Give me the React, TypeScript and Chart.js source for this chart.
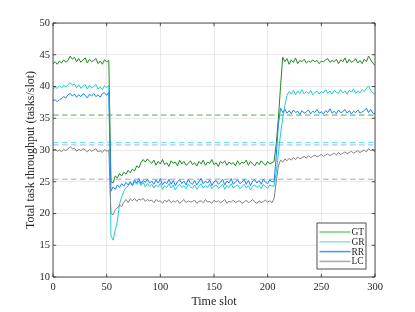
import React, { useEffect, useRef } from "react";
import { Chart, registerables } from "chart.js";

Chart.register(...registerables);

// Samples are recorded every SLOT_STEP time slots (0, 2, 4, ... 300)
const SLOT_STEP = 2;

const seriesNames = ["GT", "GR", "RR", "LC"];

const gtValues = [
  43.6, 43.9, 43.5, 44.0, 43.7, 44.2, 43.8, 44.1, 44.8, 44.3,
  44.6, 43.9, 44.4, 43.8, 44.2, 44.5, 43.7, 44.3, 43.9, 44.1,
  44.4, 43.6, 44.0, 43.5, 44.2, 43.9, 44.1,
  25.0, 24.8, 25.9, 25.6, 26.3, 25.9, 26.5, 26.2, 26.8, 26.4,
  27.0, 26.7, 27.5, 27.2, 28.0, 28.5, 28.1, 28.6, 28.2,
  27.9, 28.4, 27.6, 28.2, 27.8, 28.5, 27.7, 28.0, 27.4, 28.3,
  27.9, 28.1, 27.5, 28.4, 27.8, 28.2, 27.6, 27.9, 28.3, 27.7,
  28.0, 27.5, 28.2, 27.8, 28.4, 27.6, 28.1, 27.9, 28.5, 27.7,
  28.0, 27.4, 28.2, 27.9, 28.3, 27.6, 28.1, 27.8, 28.0, 27.5,
  28.3, 27.7, 28.1, 27.9, 28.4, 27.6, 28.2, 27.8, 27.5, 28.1,
  27.7, 28.3, 27.9, 27.6, 28.2, 27.8, 28.0,
  28.2, 31.0, 35.0, 40.0, 44.6,
  43.9, 44.4, 43.5, 44.2, 43.8, 44.5, 43.6, 44.1, 43.9, 44.3,
  43.7, 44.0, 43.8, 44.2, 43.9, 44.1, 43.6, 44.0, 43.9, 44.2,
  44.4, 43.8, 44.1, 43.9, 44.3, 43.6, 44.2, 43.9, 44.5, 43.7,
  44.3, 43.8, 44.0, 44.4, 43.7, 44.1, 43.6, 44.3, 43.9, 44.8,
  44.2, 43.7, 43.3,
];

const grValues = [
  39.6, 39.9, 39.7, 40.1, 39.8, 40.2, 39.9, 40.3, 40.6, 40.2,
  40.4, 39.8, 40.3, 39.7, 40.1, 40.3, 39.6, 40.2, 39.8, 40.0,
  40.3, 39.6, 39.9, 39.5, 40.1, 39.8, 40.2,
  16.5, 15.8, 17.4, 18.8, 21.5, 22.6, 23.5, 24.1, 24.3, 24.8,
  24.5, 25.0, 24.6, 25.1, 24.4, 24.9, 24.2, 24.7, 24.3,
  24.6, 24.0, 24.5, 24.2, 24.8, 23.8, 24.4, 24.1, 24.7, 24.0,
  24.5, 23.7, 24.3, 24.6, 24.1, 24.4, 23.9, 24.6, 24.2, 24.0,
  24.5, 23.8, 24.3, 24.7, 24.0, 24.4, 24.1, 24.6, 23.9, 24.3,
  24.5, 24.0, 24.2, 24.6, 23.8, 24.4, 24.1, 24.7, 24.0, 24.3,
  24.5, 23.9, 24.2, 24.6, 24.0, 24.4, 23.7, 24.3, 24.5, 24.1,
  24.4, 23.9, 24.6, 24.2, 24.0, 24.5, 24.3,
  24.3, 26.5, 29.5, 32.5, 35.0,
  37.0, 38.6, 39.2, 38.8, 39.4, 38.7, 39.3, 38.9, 39.5, 38.8,
  39.2, 38.9, 39.4, 38.7, 39.1, 39.3, 38.8, 39.2, 39.0, 39.5,
  38.9, 39.3, 38.8, 39.4, 39.1, 38.9, 39.5, 39.0, 39.3, 38.8,
  39.4, 39.1, 39.6, 38.9, 39.3, 39.0, 39.5, 39.2, 39.7, 40.1,
  39.4, 39.0, 38.8,
];

const rrValues = [
  37.8, 37.9, 37.6, 37.9, 38.1, 38.4, 38.2, 38.7, 38.9, 38.5,
  38.8, 38.3, 38.7, 38.4, 38.9, 38.6, 38.2, 38.8, 38.5, 38.9,
  38.4, 38.7, 38.3, 38.9, 39.0, 38.6, 39.1,
  23.5, 24.2, 23.8, 24.5, 24.1, 24.7, 24.3, 24.9, 24.5, 25.0,
  24.4, 25.3, 24.8, 25.5, 24.7, 25.2, 24.9, 25.4, 24.8,
  25.1, 24.6, 25.3, 24.8, 25.5, 24.5, 25.0, 24.7, 25.4, 24.6,
  25.2, 24.4, 25.0, 25.3, 24.7, 25.1, 24.5, 25.4, 24.8, 24.6,
  25.2, 24.5, 25.0, 25.5, 24.7, 25.1, 24.8, 25.3, 24.4, 25.0,
  25.2, 24.6, 24.9, 25.4, 24.5, 25.1, 24.8, 25.5, 24.6, 25.0,
  25.3, 24.7, 24.9, 25.4, 24.6, 25.2, 24.4, 25.1, 25.3, 24.8,
  25.2, 24.6, 25.4, 24.9, 24.7, 25.3, 25.0,
  25.0, 29.0, 34.0, 36.6, 35.9,
  36.4, 35.8, 36.2, 35.7, 36.3, 35.9, 36.1, 35.6, 36.2, 35.8,
  36.0, 36.3, 35.7, 36.1, 35.9, 36.4, 35.8, 36.0, 35.7, 36.2,
  35.9, 36.5, 35.8, 36.1, 35.7, 36.3, 35.9, 36.0, 36.4, 35.8,
  36.2, 35.7, 36.1, 35.9, 36.3, 35.8, 36.0, 36.2, 36.6, 35.9,
  36.4, 35.8, 35.7,
];

const lcValues = [
  29.9, 30.1, 29.8, 30.0, 29.7, 30.1, 29.9, 30.2, 30.5, 30.2,
  30.3, 29.8, 30.1, 29.9, 30.2, 30.0, 29.7, 30.1, 29.8, 30.0,
  30.2, 29.7, 29.9, 29.6, 30.1, 29.8, 30.0,
  20.0, 19.8, 20.6, 20.9, 21.3, 21.1, 21.8, 22.2, 21.7, 22.3,
  22.0, 22.4, 21.9, 22.3, 22.1, 22.4, 21.9, 22.2, 22.0,
  22.1, 21.7, 22.2, 21.9, 22.0, 21.6, 22.1, 21.8, 22.2, 21.7,
  22.0, 21.8, 22.1, 21.6, 21.9, 22.2, 21.7, 22.0, 21.8, 21.9,
  22.1, 21.6, 21.9, 22.0, 21.7, 22.2, 21.8, 21.9, 21.6, 22.1,
  21.8, 22.0, 21.7, 21.9, 22.2, 21.6, 21.9, 21.8, 22.1, 21.7,
  21.9, 22.0, 21.6, 21.8, 22.1, 21.7, 21.9, 22.2, 21.8, 21.6,
  22.0, 21.7, 21.9, 22.1, 21.8, 22.0, 21.7,
  22.4, 25.0, 27.5, 28.4, 28.1,
  28.6, 28.3, 28.7, 28.4, 28.8, 28.5, 28.9, 28.6, 28.8, 29.0,
  28.7, 29.1, 28.8, 29.0, 29.2, 28.9, 29.1, 29.3, 29.0, 29.2,
  29.4, 29.1, 29.3, 29.5, 29.2, 29.6, 29.3, 29.5, 29.7, 29.4,
  29.6, 29.8, 29.5, 29.7, 29.9, 29.6, 29.8, 30.0, 29.7, 30.2,
  29.9, 30.1, 29.7,
];

// Average throughput of each scheme (dashed reference lines)
const meanValues = [35.5, 31.2, 30.8, 25.4];

const seriesValues = [gtValues, grValues, rrValues, lcValues];
const lineColors = ["#1f8a1f", "#1ccfcf", "#1a80ff", "#808080"];
const meanColors = ["#4fae4f", "#5fe0ea", "#90bcff", "#a6a6a6"];
const legendColors = ["#7ccc7c", "#7fe6e6", "#3b9cff", "#a8a8a8"];

const X_MIN = 0;
const X_MAX = 300;
const X_STEP = 50;
const Y_MIN = 10;
const Y_MAX = 50;
const Y_STEP = 5;

const FONT = "'Liberation Serif', 'Times New Roman', serif";
const TEXT = "#262626";

const framePlugin = {
  id: "matlabFrame",
  afterDatasetsDraw(chart: any) {
    const { ctx, chartArea } = chart;
    const { left, right, top, bottom } = chartArea;
    const xs = chart.scales.x;
    const ys = chart.scales.y;
    ctx.save();
    ctx.strokeStyle = TEXT;
    ctx.lineWidth = 0.8;
    ctx.beginPath();
    ctx.rect(left, top, right - left, bottom - top);
    ctx.stroke();
    const tl = 3.2;
    ctx.beginPath();
    xs.ticks.forEach((t: any) => {
      const px = xs.getPixelForValue(t.value);
      ctx.moveTo(px, bottom);
      ctx.lineTo(px, bottom - tl);
      ctx.moveTo(px, top);
      ctx.lineTo(px, top + tl);
    });
    ys.ticks.forEach((t: any) => {
      const py = ys.getPixelForValue(t.value);
      ctx.moveTo(left, py);
      ctx.lineTo(left + tl, py);
      ctx.moveTo(right, py);
      ctx.lineTo(right - tl, py);
    });
    ctx.stroke();
    ctx.restore();
  },
  afterDraw(chart: any) {
    const { ctx, chartArea } = chart;
    const boxRight = chartArea.right - 9;
    const boxBottom = chartArea.bottom - 8;
    const boxW = 49;
    const rowH = 9.8;
    const boxH = 46;
    const bx = boxRight - boxW;
    const by = boxBottom - boxH;
    ctx.save();
    ctx.fillStyle = "#ffffff";
    ctx.fillRect(bx, by, boxW, boxH);
    ctx.strokeStyle = TEXT;
    ctx.lineWidth = 0.8;
    ctx.strokeRect(bx, by, boxW, boxH);
    ctx.font = `9.5px ${FONT}`;
    ctx.textBaseline = "middle";
    ctx.textAlign = "left";
    seriesNames.forEach((name, i) => {
      const cy = by + 9 + i * rowH;
      ctx.strokeStyle = legendColors[i];
      ctx.lineWidth = 1.5;
      ctx.beginPath();
      ctx.moveTo(bx + 2.5, cy);
      ctx.lineTo(bx + 33.5, cy);
      ctx.stroke();
      ctx.fillStyle = TEXT;
      ctx.fillText(name, bx + 34.5, cy + 0.5);
    });
    ctx.restore();
  },
};

export default function App() {
  const ref = useRef<HTMLCanvasElement | null>(null);

  useEffect(() => {
    if (!ref.current) return;
    const seriesSets = seriesValues.map((vals, i) => ({
      label: seriesNames[i],
      data: vals.map((v, k) => ({ x: k * SLOT_STEP, y: v })),
      borderColor: lineColors[i],
      backgroundColor: lineColors[i],
      borderWidth: 1,
      pointRadius: 0,
      tension: 0,
      order: 4 - i,
    }));
    const meanSets = meanValues.map((m, i) => ({
      label: seriesNames[i] + " mean",
      data: [
        { x: X_MIN, y: m },
        { x: X_MAX, y: m },
      ],
      borderColor: meanColors[i],
      backgroundColor: meanColors[i],
      borderWidth: 1,
      borderDash: [5.5, 3.5],
      pointRadius: 0,
      order: 10,
    }));

    const chart = new Chart(ref.current, {
      type: "line",
      data: { datasets: [...seriesSets, ...meanSets] as any },
      plugins: [framePlugin],
      options: {
        animation: false,
        responsive: false,
        devicePixelRatio: 1,
        layout: { padding: { top: 23, right: 40, left: 0, bottom: 0 } },
        plugins: {
          legend: { display: false },
          tooltip: { enabled: false },
        },
        scales: {
          x: {
            type: "linear",
            min: X_MIN,
            max: X_MAX,
            afterFit: (s: any) => {
              s.height = 35;
            },
            ticks: {
              stepSize: X_STEP,
              color: TEXT,
              padding: 4,
              maxRotation: 0,
              font: { family: FONT, size: 10.5 },
            },
            grid: { color: "rgba(38,38,38,0.13)", lineWidth: 0.8, drawTicks: false },
            border: { display: false },
            title: {
              display: true,
              text: "Time slot",
              color: TEXT,
              font: { family: FONT, size: 12 },
              padding: { top: 0, bottom: 3 },
            },
          },
          y: {
            type: "linear",
            min: Y_MIN,
            max: Y_MAX,
            afterFit: (s: any) => {
              s.width = 53;
            },
            ticks: {
              stepSize: Y_STEP,
              color: TEXT,
              padding: 3,
              font: { family: FONT, size: 10.5 },
            },
            grid: { color: "rgba(38,38,38,0.13)", lineWidth: 0.8, drawTicks: false },
            border: { display: false },
            title: {
              display: true,
              text: "Total task throughput (tasks/slot)",
              color: TEXT,
              font: { family: FONT, size: 12 },
              padding: { top: 24, bottom: 0 },
            },
          },
        },
      },
    });
    return () => chart.destroy();
  }, []);

  return (
    <div style={{ position: "fixed", left: 0, top: 0, width: 415, height: 312, background: "#fff" }}>
      <canvas ref={ref} width={415} height={312} style={{ width: 415, height: 312, display: "block" }} />
    </div>
  );
}
